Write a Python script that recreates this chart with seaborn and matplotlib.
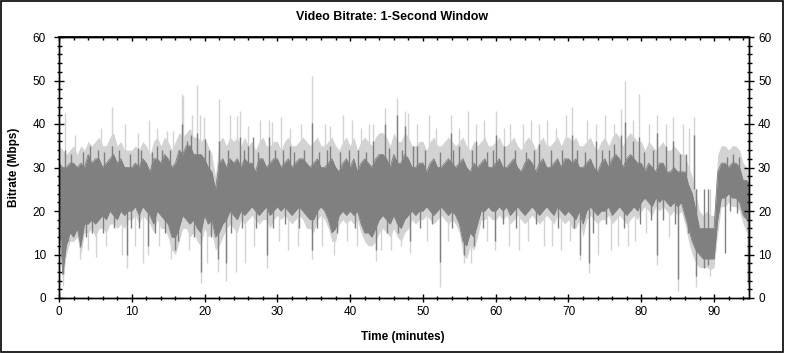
import numpy as np
import matplotlib
matplotlib.use("Agg")
import matplotlib.pyplot as plt
from matplotlib.ticker import MultipleLocator
from matplotlib.patches import Rectangle
import seaborn as sns

light_hi = [35, 34, 33, 34, 35, 33, 35, 34, 36, 35,
            36, 37, 35, 35, 37, 38, 35, 36, 34, 34,
            34, 35, 34, 36, 35, 33, 36, 37, 35, 37,
            36, 34, 36, 38, 37, 38, 39, 37, 37, 36,
            37, 35, 33, 28, 36, 37, 35, 37, 36, 37,
            35, 37, 35, 36, 34, 36, 37, 35, 35, 36,
            36, 34, 36, 37, 35, 35, 36, 37, 36, 35,
            36, 37, 35, 35, 36, 37, 35, 34, 36, 37,
            35, 37, 34, 36, 37, 36, 35, 37, 38, 38,
            37, 35, 38, 36, 36, 38, 37, 35, 35, 36,
            36, 34, 36, 37, 35, 35, 36, 37, 36, 35,
            36, 37, 35, 34, 36, 35, 36, 37, 35, 35,
            36, 37, 35, 35, 36, 37, 35, 34, 36, 37,
            36, 34, 36, 37, 35, 35, 36, 37, 35, 37,
            37, 36, 37, 35, 35, 36, 37, 35, 34, 36,
            37, 35, 37, 38, 37, 35, 37, 38, 37, 36,
            36, 34, 36, 35, 34, 35, 36, 34, 34, 35,
            34, 33, 33, 30, 28, 24, 20, 19, 20, 19,
            19, 33, 35, 35, 34, 35, 35, 34, 31, 30,
            29]
dark_hi = [31, 30, 30, 31, 31, 30, 31, 30, 33, 31,
           32, 32, 30, 31, 32, 33, 31, 32, 30, 30,
           30, 31, 30, 32, 31, 29, 32, 32, 31, 33,
           32, 30, 31, 34, 33, 35, 35, 33, 33, 33,
           32, 30, 29, 25, 31, 32, 30, 32, 31, 32,
           30, 32, 31, 31, 29, 32, 32, 30, 31, 32,
           32, 30, 31, 32, 30, 31, 32, 32, 31, 30,
           31, 32, 30, 30, 31, 32, 30, 29, 31, 32,
           30, 32, 29, 31, 32, 31, 30, 32, 33, 33,
           32, 30, 33, 31, 31, 33, 32, 30, 30, 31,
           31, 29, 31, 32, 30, 30, 31, 32, 31, 30,
           31, 32, 30, 29, 31, 30, 31, 32, 30, 30,
           31, 32, 30, 30, 31, 32, 30, 29, 31, 32,
           31, 29, 31, 32, 30, 30, 31, 32, 30, 32,
           32, 31, 32, 30, 30, 31, 32, 30, 29, 31,
           32, 30, 32, 33, 32, 30, 32, 33, 32, 31,
           31, 29, 31, 30, 29, 31, 31, 29, 29, 30,
           29, 29, 29, 26, 24, 20, 16, 16, 16, 16,
           16, 29, 31, 31, 30, 31, 31, 30, 27, 27,
           26]
dark_lo = [20, 5.5, 12, 15, 14, 16, 12, 17, 17, 18,
           17, 18, 19, 18, 20, 19, 18, 20, 19, 20,
           20, 21, 19, 21, 20, 19, 17, 20, 19, 18,
           17, 14, 14, 16, 19, 18, 17, 18, 16, 15,
           19, 17, 18, 14, 15, 17, 18, 20, 19, 18,
           20, 19, 20, 21, 20, 19, 20, 21, 19, 20,
           21, 20, 21, 20, 19, 20, 21, 20, 19, 18,
           18, 20, 21, 20, 18, 15, 16, 19, 20, 19,
           20, 19, 20, 17, 15, 15, 14, 16, 18, 19,
           18, 17, 19, 17, 16, 18, 19, 20, 19, 20,
           20, 21, 20, 19, 20, 21, 20, 19, 20, 19,
           17, 13, 12, 15, 14, 17, 20, 20, 21, 20,
           20, 21, 20, 21, 19, 20, 21, 20, 19, 20,
           21, 20, 19, 20, 21, 20, 19, 21, 20, 19,
           20, 19, 18, 20, 17, 20, 21, 20, 19, 20,
           20, 21, 19, 20, 21, 20, 19, 20, 21, 20,
           22, 23, 22, 21, 23, 22, 23, 22, 21, 22,
           21, 22, 19, 16, 13, 11, 10, 9, 9, 9,
           9, 18, 23, 23, 24, 23, 23, 22, 19, 18,
           17]
light_lo = [17, 3.5, 10, 13, 13, 14, 10, 15, 15, 16,
            14, 16, 16, 15, 17, 17, 16, 17, 16, 18,
            18, 19, 17, 19, 18, 17, 15, 18, 16, 16,
            14, 11, 10, 13, 16, 16, 14, 15, 13, 12,
            16, 14, 15, 11, 12, 14, 16, 17, 16, 15,
            18, 17, 18, 19, 18, 17, 18, 18, 16, 18,
            19, 18, 19, 18, 17, 18, 19, 18, 16, 16,
            15, 18, 19, 18, 16, 13, 13, 17, 18, 17,
            18, 17, 18, 15, 13, 12, 12, 13, 15, 16,
            15, 14, 16, 14, 13, 15, 16, 18, 17, 18,
            18, 19, 18, 17, 18, 19, 18, 17, 18, 17,
            15, 10, 9, 12, 11, 14, 18, 18, 19, 18,
            18, 19, 18, 19, 17, 18, 19, 18, 17, 18,
            19, 18, 17, 18, 19, 18, 17, 19, 18, 17,
            18, 16, 16, 18, 14, 18, 19, 18, 17, 18,
            18, 19, 17, 18, 19, 18, 17, 18, 19, 18,
            20, 21, 20, 19, 21, 20, 21, 20, 19, 20,
            19, 20, 17, 13, 10, 8, 7, 7, 7, 6.5,
            7, 15, 21, 21, 22, 21, 21, 20, 17, 15,
            14]

# individual 1-second peaks (minute, Mbps)
peak_light_t = [0.8, 2.2, 5.8, 7.3, 9.0, 10.8, 12.3, 13.5, 14.8, 15.7, 16.85, 17.0, 18.3, 19.0, 19.4,
                19.9, 22.0, 23.5, 24.4, 24.9, 26.0, 27.6, 28.8, 29.2, 30.5, 31.8, 33.2, 34.8, 36.5,
                37.2, 39.0, 40.3, 41.5, 42.6, 43.2, 44.8, 46.4, 47.6, 48.0, 49.2, 50.8, 51.8, 53.8,
                55.0, 56.2, 57.3, 58.4, 60.0, 61.2, 62.0, 63.7, 64.8, 66.0, 67.0, 68.3, 69.7, 70.5,
                72.6, 73.8, 75.0, 76.2, 77.2, 77.7, 78.8, 79.7, 81.0, 82.2, 83.4, 84.3, 85.8, 86.6, 87.3]
peak_light_v = [42.5, 37.5, 39, 44, 40, 38, 41, 39, 38.5, 38.5, 47, 46.5, 42, 49, 42,
                41.5, 45.7, 42, 41.8, 43, 39.5, 41, 41, 40.5, 41.5, 39, 40, 51, 40,
                39.5, 42, 41, 39, 40, 40, 43.6, 46, 43, 42.5, 40, 42, 39, 42,
                39, 43, 40, 41, 43, 39, 40, 40, 41, 40, 41, 39, 42, 44,
                41, 40, 42, 40, 43.5, 50, 41, 47, 40, 42, 40, 41.5, 40, 39, 41.5]
peak_dark_t = [0.8, 1.7, 3.3, 4.2, 5.3, 6.2, 7.3, 8.2, 9.7, 10.8, 11.3, 12.8, 13.5, 14.2, 15.2,
               16.85, 17.6, 18.2, 19.0, 20.0, 20.6, 22.0, 23.2, 24.9, 25.4, 26.0, 26.7, 27.3,
               28.8, 29.7, 30.8, 31.8, 32.3, 33.7, 34.8, 35.7, 36.8, 37.2, 38.6, 39.8, 41.1,
               42.2, 43.2, 44.8, 45.3, 46.4, 47.1, 47.6, 48.6, 49.2, 50.3, 52.4, 53.8, 54.2,
               55.0, 56.7, 57.3, 58.8, 59.6, 60.0, 61.2, 62.6, 64.2, 65.3, 66.0, 67.6, 69.1,
               70.5, 71.2, 72.2, 73.8, 74.6, 75.6, 76.2, 77.2, 77.7, 78.8, 79.7, 80.4, 81.6,
               82.2, 83.4, 84.3, 85.3, 86.1, 87.3, 91.8, 92.6, 93.4]
peak_dark_v = [34, 33, 33.5, 35, 34, 33.5, 35, 34, 33, 34.5, 34, 33.5, 35, 34, 34,
               40, 36, 37.5, 38, 36.5, 34, 36, 34, 37, 34, 35, 37, 33.5,
               37, 34, 34, 35, 33.5, 34, 40.3, 33.5, 34, 35, 33.5, 34, 34,
               33.5, 36, 40, 34.5, 42, 34, 39.5, 35, 35, 34, 33.5, 38, 34,
               35, 34, 36, 33.5, 34, 37.5, 35, 34, 33.5, 34, 35.5, 34, 34,
               37.5, 34, 33.5, 36, 34, 34, 35.5, 37.5, 40.5, 36, 37, 33.5, 34,
               38, 35, 36, 33, 33, 37.5, 32.5, 33, 32.5]
# individual 1-second drops (minute, Mbps)
drop_light_t = [0.6, 2.9, 4.0, 5.1, 6.5, 8.6, 9.3, 10.4, 11.6, 12.2, 13.8, 15.4, 17.8, 19.5, 20.3,
                21.9, 22.9, 24.3, 25.6, 26.8, 28.6, 30.2, 31.5, 32.8, 34.7, 36.2, 37.8, 39.6, 41.0,
                43.5, 44.3, 45.6, 47.0, 48.2, 50.5, 52.3, 53.5, 55.6, 56.6, 58.8, 59.9, 61.8, 63.2,
                64.5, 66.6, 67.8, 69.0, 70.2, 71.6, 72.8, 74.0, 75.8, 76.8, 78.2, 79.2, 80.6, 82.2,
                83.8, 85.1, 87.5, 89.5, 94.7]
drop_light_v = [3, 9, 11, 9.5, 12, 10, 7, 12, 8, 10, 12, 9, 11, 3.4, 8,
                6, 4, 6, 8, 12, 7, 13, 11, 12, 9, 12, 10, 13, 12,
                8.5, 11, 11, 12, 10.3, 13, 2.5, 13, 8, 8, 13, 11, 12, 11,
                13, 12, 12, 11, 13, 8.7, 5.7, 10, 11, 12, 12, 13, 15, 7.6,
                14, 1.5, 2.6, 5, 3]
drop_dark_t = [0.6, 1.3, 2.9, 3.7, 4.6, 6.0, 7.6, 9.3, 9.9, 11.0, 12.2, 13.2, 14.5, 16.0, 16.4,
               18.6, 19.5, 20.9, 21.9, 22.9, 23.6, 25.1, 27.0, 28.6, 29.4, 31.0, 33.0, 34.7,
               35.5, 38.2, 40.6, 42.0, 43.5, 45.0, 46.6, 48.2, 49.6, 51.2, 52.3, 54.0, 55.6,
               57.0, 58.2, 59.9, 61.0, 62.8, 65.6, 68.6, 70.8, 71.6, 72.8, 73.4, 75.2, 77.6,
               79.8, 81.3, 82.2, 83.0, 84.6, 85.1, 86.4, 87.5, 88.6, 89.2, 91.5, 92.2, 93.2, 94.7]
drop_dark_v = [5.5, 13, 11.7, 14, 15, 15, 16, 10, 16, 16, 12, 15, 15, 11, 13,
               14, 6, 14, 9, 8, 15, 16, 16, 10, 16, 17, 16, 11,
               16, 15, 16, 15, 11, 15, 15, 13, 16, 17, 8.3, 16, 10,
               12, 16, 13, 17, 16, 17, 16, 16, 10, 8, 15, 17, 16,
               17, 18, 10, 18, 17, 4.4, 15, 5, 7, 7.5, 10.3, 20, 19.5, 4]

x_ticks = [0, 10, 20, 30, 40, 50, 60, 70, 80, 90]
y_ticks = [0, 10, 20, 30, 40, 50, 60]

LIGHT = "#d3d3d3"
DARK = "#808080"

sns.set_theme(style="white")
plt.rcParams["font.family"] = ["Liberation Sans", "DejaVu Sans"]
plt.rcParams.update({"axes.edgecolor": "black", "xtick.color": "black",
                     "ytick.color": "black", "text.color": "black",
                     "axes.labelcolor": "black"})

minutes = np.arange(len(light_hi)) * 0.5

fig = plt.figure(figsize=(7.85, 3.53), dpi=100)
ax = fig.add_axes([59 / 785, 1 - 298 / 353, 690 / 785, 261 / 353])

ax.fill_between(minutes, light_lo, light_hi, color=LIGHT, lw=0, zorder=1.0)
ax.vlines(peak_light_t, 25, peak_light_v, color=LIGHT, lw=1.0, zorder=1.1)
ax.vlines(drop_light_t, drop_light_v, 25, color=LIGHT, lw=1.0, zorder=1.1)
ax.fill_between(minutes, dark_lo, dark_hi, color=DARK, lw=0, zorder=1.2)
sns.lineplot(x=minutes, y=dark_hi, color=DARK, lw=0.6, ax=ax, zorder=1.25)
sns.lineplot(x=minutes, y=dark_lo, color=DARK, lw=0.6, ax=ax, zorder=1.25)
ax.vlines(peak_dark_t, 25, peak_dark_v, color=DARK, lw=1.0, zorder=1.3)
ax.vlines(drop_dark_t, drop_dark_v, 25, color=DARK, lw=1.0, zorder=1.3)

ax.set_xlim(0, 94.8)
ax.set_ylim(0, 60)
ax.set_xticks(x_ticks)
ax.set_yticks(y_ticks)
ax.xaxis.set_minor_locator(MultipleLocator(2))
ax.yaxis.set_minor_locator(MultipleLocator(2))
ax.set_xlabel("")
ax.set_ylabel("")
for s in ax.spines.values():
    s.set_color("black")
    s.set_linewidth(1)
    s.set_zorder(3)

ax.tick_params(axis="x", which="major", direction="inout", length=6, width=1,
               bottom=True, top=False, labelsize=8.5, pad=2.5)
ax.tick_params(axis="x", which="minor", direction="inout", length=2.5, width=1,
               bottom=True, top=False)
ax.tick_params(axis="y", which="major", direction="inout", length=7, width=1,
               left=True, right=False, labelsize=8.5, pad=6)
ax.tick_params(axis="y", which="minor", direction="inout", length=3.6, width=1,
               left=True, right=False)

ax2 = ax.twinx()
ax2.set_ylim(0, 60)
ax2.set_yticks(y_ticks)
ax2.yaxis.set_minor_locator(MultipleLocator(2))
ax2.tick_params(axis="y", which="major", direction="inout", length=7, width=1,
                right=True, left=False, labelsize=8.5, pad=3)
ax2.tick_params(axis="y", which="minor", direction="inout", length=3.6, width=1,
                right=True, left=False)
ax2.grid(False)
for s in ax2.spines.values():
    s.set_color("black")
    s.set_linewidth(1)

secx = ax.secondary_xaxis("top")
secx.set_xticks(x_ticks)
secx.xaxis.set_minor_locator(MultipleLocator(2))
secx.tick_params(axis="x", which="major", direction="in", length=3, width=1,
                 top=True, labeltop=False)
secx.tick_params(axis="x", which="minor", direction="in", length=2, width=1, top=True)
secx.spines["top"].set_color("black")

fig.text(0.5, 1 - 17 / 353, "Video Bitrate: 1-Second Window", ha="center", va="center",
         fontsize=9, fontweight="bold")
fig.text(403 / 785, 1 - 337 / 353, "Time (minutes)", ha="center", va="center",
         fontsize=8.5, fontweight="bold")
fig.text(14 / 785, 1 - 167 / 353, "Bitrate (Mbps)", ha="center", va="center",
         rotation=90, fontsize=8.5, fontweight="bold")

fig.patches.append(Rectangle((0.6 / 785, 0.6 / 353), 782.4 / 785, 351 / 353,
                             transform=fig.transFigure, fill=False,
                             edgecolor="black", lw=1.2))

fig.savefig("out.png", dpi=100)
